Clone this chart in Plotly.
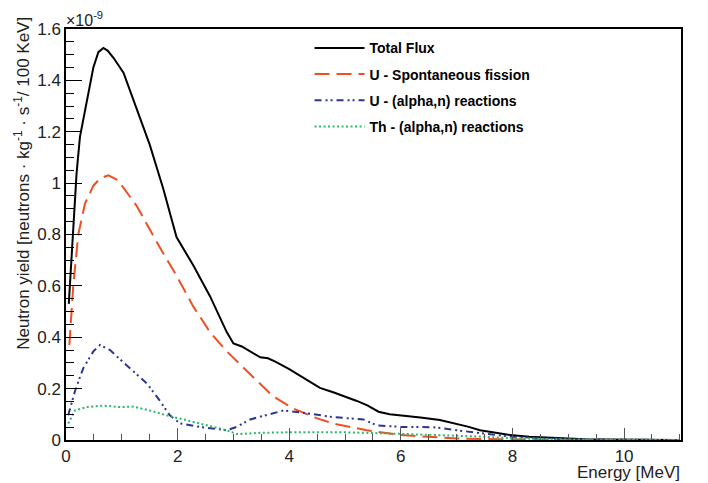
import plotly.graph_objects as go

# Values in units of 1e-9 neutrons / kg / s / 100 keV
total_x = [0.05, 0.1, 0.13, 0.19, 0.25, 0.37, 0.49, 0.58, 0.67, 0.75, 0.85, 1.03, 1.27, 1.5, 1.74, 1.98,
           2.28, 2.58, 2.88, 3.0, 3.15, 3.3, 3.48, 3.62, 3.75, 4.0, 4.2, 4.4, 4.55, 4.8, 5.0, 5.2, 5.4,
           5.6, 5.8, 6.0, 6.35, 6.7, 6.94, 7.2, 7.42, 7.7, 7.96, 8.3, 8.67, 9.0, 9.3, 9.7, 10.0, 10.5, 11.0]
total_y = [0.53, 0.72, 0.80, 1.04, 1.18, 1.32, 1.45, 1.51, 1.526, 1.515, 1.488, 1.43, 1.29, 1.15, 0.98, 0.79,
           0.68, 0.56, 0.42, 0.376, 0.364, 0.345, 0.322, 0.318, 0.305, 0.276, 0.25, 0.225, 0.203, 0.185, 0.17,
           0.153, 0.135, 0.11, 0.1, 0.096, 0.088, 0.078, 0.066, 0.052, 0.038, 0.027, 0.019, 0.013, 0.009,
           0.006, 0.003, 0.002, 0.001, 0.0005, 0.0003]

usf_x = [0.06, 0.13, 0.22, 0.34, 0.49, 0.62, 0.76, 0.9, 0.97, 1.27, 1.68, 1.98, 2.28, 2.58, 2.88, 3.24,
         3.48, 3.7, 4.07, 4.5, 4.85, 5.39, 6.0, 6.58, 7.0, 7.47, 8.0, 8.5, 9.0, 10.0, 11.0]
usf_y = [0.37, 0.6, 0.8, 0.92, 0.99, 1.02, 1.03, 1.015, 1.0, 0.91, 0.75, 0.64, 0.52, 0.42, 0.345, 0.27,
         0.218, 0.172, 0.123, 0.084, 0.061, 0.038, 0.019, 0.01, 0.006, 0.004, 0.002, 0.001, 0.0005, 0.0002, 0.0001]

uan_x = [0.04, 0.16, 0.31, 0.49, 0.61, 0.79, 1.09, 1.45, 1.68, 1.86, 2.04, 2.4, 2.88, 3.06, 3.3, 3.6,
         3.9, 4.19, 4.79, 5.33, 5.57, 6.0, 6.58, 7.0, 7.48, 7.96, 8.67, 9.3, 10.0, 11.0]
uan_y = [0.096, 0.19, 0.28, 0.345, 0.37, 0.35, 0.29, 0.22, 0.153, 0.096, 0.065, 0.051, 0.038, 0.051,
         0.08, 0.096, 0.115, 0.108, 0.089, 0.08, 0.057, 0.051, 0.05, 0.038, 0.026, 0.013, 0.006, 0.002, 0.001, 0.0]

than_x = [0.04, 0.16, 0.37, 0.67, 0.97, 1.21, 1.5, 1.8, 2.16, 2.52, 2.88, 3.06, 3.48, 4.0, 5.0, 5.69,
          6.88, 7.47, 8.08, 9.0, 10.0, 11.0]
than_y = [0.064, 0.115, 0.128, 0.134, 0.128, 0.13, 0.115, 0.096, 0.077, 0.057, 0.038, 0.023, 0.028,
          0.03, 0.03, 0.026, 0.019, 0.013, 0.006, 0.002, 0.001, 0.0]

x_tickvals = [0, 2, 4, 6, 8, 10]
x_ticktext = ["0", "2", "4", "6", "8", "10"]
y_tickvals = [0, 0.2, 0.4, 0.6, 0.8, 1.0, 1.2, 1.4, 1.6]
y_ticktext = ["0", "0.2", "0.4", "0.6", "0.8", "1", "1.2", "1.4", "1.6"]

FONT = "Liberation Sans, Arial, Helvetica, sans-serif"

fig = go.Figure()
fig.add_trace(go.Scatter(x=total_x, y=total_y, mode="lines", name="Total Flux", legendgroup="a",
                         line=dict(color="black", width=2)))
fig.add_trace(go.Scatter(x=usf_x, y=usf_y, mode="lines", name="U - Spontaneous fission", legendgroup="b",
                         line=dict(color="#f04e23", width=2, dash="15px,7px")))
fig.add_trace(go.Scatter(x=uan_x, y=uan_y, mode="lines", name="U - (alpha,n) reactions", legendgroup="c",
                         line=dict(color="#2b3592", width=2, dash="7px,4px,2px,3px,2px,4px")))
fig.add_trace(go.Scatter(x=than_x, y=than_y, mode="lines", name="Th - (alpha,n) reactions", legendgroup="d",
                         line=dict(color="#2db76a", width=2, dash="2px,2.5px")))

fig.update_layout(
    width=700, height=475,
    margin=dict(l=58, r=27, t=14, b=43),
    paper_bgcolor="white", plot_bgcolor="white",
    font=dict(family=FONT, size=17, color="#222"),
    showlegend=True,
    legend=dict(x=0.396, y=0.992, xanchor="left", yanchor="top", bgcolor="rgba(0,0,0,0)",
                borderwidth=0, font=dict(family=FONT, size=14, color="black", weight="bold"),
                tracegroupgap=5, itemwidth=50),
    xaxis=dict(range=[0, 11.02], showgrid=False, zeroline=False, showline=True, linecolor="black",
               linewidth=1.5, mirror=True, ticks="inside", ticklen=12, tickcolor="#555",
               tickvals=x_tickvals, ticktext=x_ticktext, tickfont=dict(size=17, color="#222"),
               minor=dict(dtick=0.5, tick0=0, ticks="inside", ticklen=6, tickcolor="#555")),
    yaxis=dict(range=[0, 1.6], showgrid=False, zeroline=False, showline=True, linecolor="black",
               linewidth=1.5, mirror=True, ticks="inside", ticklen=16, tickcolor="black",
               tickvals=y_tickvals, ticktext=y_ticktext, tickfont=dict(size=17, color="#222"),
               minor=dict(dtick=0.05, tick0=0, ticks="inside", ticklen=8, tickcolor="black")),
)

fig.add_annotation(text="×10<sup>-9</sup>", xref="paper", yref="paper", x=-0.003, y=0.995,
                   xanchor="left", yanchor="bottom", showarrow=False,
                   font=dict(family=FONT, size=16, color="#222"))
fig.add_annotation(text="Energy [MeV]", xref="paper", yref="paper", x=1.0, y=-0.054,
                   xanchor="right", yanchor="top", showarrow=False, borderpad=0,
                   font=dict(family=FONT, size=17, color="#222"))
fig.add_annotation(text="Neutron yield [neutrons · kg<sup>-1</sup> · s<sup>-1</sup>/ 100 KeV]",
                   xref="paper", yref="paper", x=-0.072, y=1.035, textangle=-90,
                   xanchor="center", yanchor="top", showarrow=False,
                   font=dict(family=FONT, size=17, color="#222"))

fig.write_html("out.html")
